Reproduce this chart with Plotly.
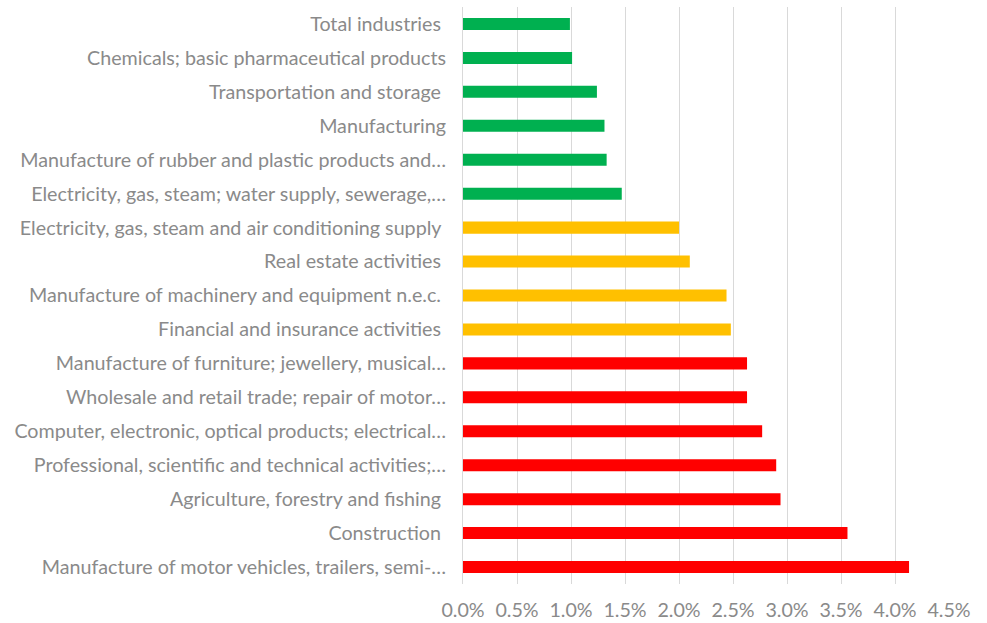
import plotly.graph_objects as go

categories = [
    "Total industries ",
    "Chemicals; basic pharmaceutical products",
    "Transportation and storage ",
    "Manufacturing",
    "Manufacture of rubber and plastic products and…",
    "Electricity, gas, steam; water supply, sewerage,…",
    "Electricity, gas, steam and air conditioning supply ",
    "Real estate activities ",
    "Manufacture of machinery and equipment n.e.c. ",
    "Financial and insurance activities ",
    "Manufacture of furniture; jewellery, musical…",
    "Wholesale and retail trade; repair of motor…",
    "Computer, electronic, optical products; electrical…",
    "Professional, scientific and technical activities;…",
    "Agriculture, forestry and fishing ",
    "Construction ",
    "Manufacture of motor vehicles, trailers, semi-…",
]
values = [0.0099, 0.0101, 0.0124, 0.0131, 0.0133, 0.0147,
          0.0200, 0.0210, 0.0244, 0.0248,
          0.0263, 0.0263, 0.0277, 0.0290, 0.0294, 0.0356, 0.0413]
groups = ["low"] * 6 + ["mid"] * 4 + ["high"] * 7
group_colors = {"low": "#00B050", "mid": "#FFC000", "high": "#FF0000"}
x_ticks = [0, 0.005, 0.01, 0.015, 0.02, 0.025, 0.03, 0.035, 0.04, 0.045]

fig = go.Figure(go.Bar(
    x=values, y=categories, orientation="h",
    marker=dict(color=[group_colors[g] for g in groups], line=dict(width=0)),
    hovertemplate="%{y}: %{x:.2%}<extra></extra>",
))

fig.update_layout(
    width=987, height=623,
    margin=dict(l=463, r=38, t=7, b=39),
    paper_bgcolor="white", plot_bgcolor="white",
    bargap=0.646,
    showlegend=False,
    font=dict(family="Lato, Open Sans, sans-serif", size=19.7, color="#8A8A8A"),
)
fig.update_xaxes(
    range=[0, 0.045], tickvals=x_ticks, tickformat=".1%",
    showgrid=True, gridcolor="#D9D9D9", gridwidth=1,
    zeroline=False, showline=False, ticks="",
    ticklabelstandoff=12, automargin=False,
)
fig.update_yaxes(
    autorange="reversed", showgrid=False, zeroline=False,
    showline=True, linecolor="#D9D9D9", linewidth=1, ticks="",
    ticklabelstandoff=12, automargin=False,
)

fig.write_html(
    "out.html",
    config={"displayModeBar": False},
    post_script="document.body.style.margin='0';document.body.style.overflow='hidden';",
)
